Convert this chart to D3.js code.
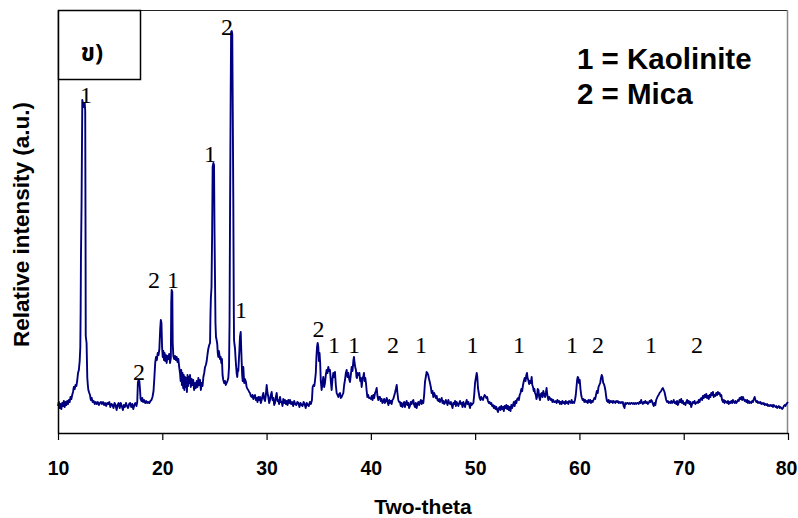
<!DOCTYPE html>
<html>
<head>
<meta charset="utf-8">
<script src="https://cdn.jsdelivr.net/npm/d3@7"></script>
<style>
  body { margin: 0; background: #fff; }
  svg { display: block; }
  .tick-label { font-family: "Liberation Sans", Arial, sans-serif; font-weight: bold; }
</style>
</head>
<body>
<script>
// x-ray diffraction scan: [two-theta, relative intensity]
const scan = [
  [10.00, 27], [10.08, 31], [10.16, 25], [10.24, 29], [10.32, 24], [10.40, 30], [10.48, 27], [10.56, 32],
  [10.64, 26], [10.72, 31], [10.80, 28], [10.88, 32], [10.96, 29], [11.04, 33], [11.12, 31], [11.20, 36],
  [11.28, 34], [11.36, 38], [11.44, 41], [11.52, 46], [11.60, 44], [11.68, 48], [11.76, 47], [11.84, 52],
  [11.92, 60], [12.00, 63], [12.08, 72], [12.14, 86], [12.17, 120], [12.20, 173], [12.26, 230], [12.33, 333],
  [12.40, 329], [12.48, 326], [12.56, 330], [12.61, 322], [12.64, 200], [12.66, 97], [12.74, 90], [12.81, 55],
  [12.86, 48], [12.91, 43], [13.00, 40], [13.07, 38], [13.15, 33], [13.23, 35], [13.32, 31], [13.42, 32],
  [13.52, 29], [13.62, 31], [13.72, 29], [13.82, 31], [13.92, 28], [14.02, 30], [14.12, 31], [14.22, 29],
  [14.32, 31], [14.42, 28], [14.52, 30], [14.62, 27], [14.72, 30], [14.82, 29], [14.92, 31], [15.02, 26],
  [15.12, 29], [15.22, 28], [15.32, 25], [15.42, 30], [15.52, 28], [15.62, 23], [15.72, 28], [15.82, 30],
  [15.92, 25], [16.02, 30], [16.12, 27], [16.22, 23], [16.32, 28], [16.42, 26], [16.52, 30], [16.62, 27],
  [16.72, 25], [16.82, 29], [16.92, 30], [17.02, 26], [17.12, 29], [17.22, 24], [17.32, 28], [17.42, 30],
  [17.52, 27], [17.60, 31], [17.66, 50], [17.72, 53], [17.80, 52], [17.86, 44], [17.92, 34], [18.00, 32],
  [18.08, 35], [18.16, 31], [18.26, 33], [18.36, 30], [18.46, 32], [18.56, 30], [18.66, 31], [18.76, 30],
  [18.86, 32], [18.96, 33], [19.06, 36], [19.16, 42], [19.24, 55], [19.32, 70], [19.40, 76], [19.48, 73],
  [19.56, 80], [19.64, 78], [19.72, 84], [19.80, 104], [19.86, 113], [19.92, 110], [19.98, 86], [20.04, 76],
  [20.10, 82], [20.16, 73], [20.22, 80], [20.28, 72], [20.34, 78], [20.42, 70], [20.50, 77], [20.58, 74],
  [20.66, 79], [20.74, 70], [20.82, 75], [20.86, 130], [20.90, 143], [20.96, 141], [21.00, 90], [21.06, 77],
  [21.14, 74], [21.22, 77], [21.30, 73], [21.38, 76], [21.46, 71], [21.54, 74], [21.62, 66], [21.70, 60],
  [21.76, 52], [21.82, 63], [21.88, 48], [21.94, 60], [22.00, 45], [22.06, 58], [22.12, 43], [22.18, 56],
  [22.24, 46], [22.30, 55], [22.36, 41], [22.42, 58], [22.48, 47], [22.54, 56], [22.60, 50], [22.66, 58],
  [22.74, 46], [22.82, 54], [22.90, 48], [22.97, 53], [23.05, 43], [23.14, 50], [23.22, 45], [23.30, 52],
  [23.38, 46], [23.46, 55], [23.54, 48], [23.62, 53], [23.70, 43], [23.78, 50], [23.86, 47], [23.94, 56],
  [24.02, 60], [24.10, 66], [24.18, 68], [24.26, 72], [24.34, 79], [24.41, 84], [24.50, 88], [24.58, 90],
  [24.62, 118], [24.66, 135], [24.72, 146], [24.78, 200], [24.83, 266], [24.90, 270], [24.96, 268], [25.01, 200],
  [25.05, 160], [25.10, 110], [25.15, 96], [25.21, 93], [25.27, 89], [25.32, 80], [25.37, 76], [25.42, 82],
  [25.47, 79], [25.53, 74], [25.60, 76], [25.66, 70], [25.72, 74], [25.78, 58], [25.85, 53], [25.93, 50],
  [26.01, 52], [26.09, 48], [26.17, 50], [26.25, 52], [26.33, 55], [26.40, 66], [26.45, 110], [26.50, 226],
  [26.56, 340], [26.60, 401], [26.66, 402], [26.71, 399], [26.76, 320], [26.81, 233], [26.86, 120], [26.88, 93],
  [26.93, 88], [26.97, 85], [27.02, 76], [27.07, 68], [27.13, 60], [27.19, 56], [27.24, 64], [27.29, 62],
  [27.34, 72], [27.39, 82], [27.45, 96], [27.52, 101], [27.57, 84], [27.61, 72], [27.66, 58], [27.71, 52],
  [27.77, 66], [27.82, 56], [27.86, 50], [27.92, 54], [28.00, 52], [28.09, 46], [28.17, 44], [28.25, 43],
  [28.33, 41], [28.41, 40], [28.49, 37], [28.57, 36], [28.65, 38], [28.73, 34], [28.81, 37], [28.89, 38],
  [28.97, 33], [29.05, 35], [29.13, 31], [29.21, 36], [29.29, 33], [29.37, 36], [29.45, 30], [29.53, 33],
  [29.61, 37], [29.69, 40], [29.77, 34], [29.85, 32], [29.93, 38], [30.01, 48], [30.09, 40], [30.17, 36],
  [30.25, 30], [30.33, 33], [30.41, 38], [30.49, 41], [30.57, 33], [30.65, 35], [30.73, 28], [30.81, 30],
  [30.89, 36], [30.97, 40], [31.05, 32], [31.12, 33], [31.20, 29], [31.29, 36], [31.37, 31], [31.45, 31],
  [31.53, 27], [31.60, 34], [31.68, 30], [31.76, 33], [31.85, 29], [31.93, 32], [32.01, 28], [32.09, 33],
  [32.17, 30], [32.25, 33], [32.35, 29], [32.45, 31], [32.55, 27], [32.65, 32], [32.75, 29], [32.85, 28],
  [32.95, 31], [33.05, 30], [33.15, 26], [33.25, 30], [33.35, 28], [33.45, 27], [33.55, 31], [33.65, 29],
  [33.75, 25], [33.85, 30], [33.95, 28], [34.05, 27], [34.15, 31], [34.25, 29], [34.35, 33], [34.42, 46],
  [34.50, 48], [34.58, 47], [34.64, 52], [34.72, 60], [34.78, 76], [34.84, 86], [34.90, 90], [34.96, 86],
  [35.02, 72], [35.08, 80], [35.14, 70], [35.20, 52], [35.28, 43], [35.36, 50], [35.44, 56], [35.52, 46],
  [35.60, 50], [35.68, 58], [35.76, 63], [35.84, 60], [35.92, 66], [36.00, 62], [36.08, 63], [36.16, 52],
  [36.24, 43], [36.32, 54], [36.40, 60], [36.48, 56], [36.56, 61], [36.64, 48], [36.72, 40], [36.80, 38],
  [36.88, 36], [36.96, 39], [37.04, 40], [37.12, 35], [37.20, 36], [37.28, 38], [37.36, 40], [37.44, 48],
  [37.52, 53], [37.60, 60], [37.68, 63], [37.76, 56], [37.84, 60], [37.92, 54], [38.00, 51], [38.08, 58],
  [38.16, 66], [38.24, 62], [38.32, 72], [38.38, 76], [38.44, 70], [38.50, 66], [38.57, 63], [38.62, 56],
  [38.67, 55], [38.74, 60], [38.82, 58], [38.90, 60], [38.98, 52], [39.05, 55], [39.12, 46], [39.20, 54],
  [39.28, 57], [39.34, 60], [39.40, 52], [39.47, 55], [39.53, 50], [39.60, 42], [39.66, 36], [39.74, 38],
  [39.82, 35], [39.92, 35], [40.00, 34], [40.08, 37], [40.16, 33], [40.24, 38], [40.32, 35], [40.40, 40],
  [40.48, 42], [40.56, 45], [40.62, 38], [40.71, 33], [40.79, 36], [40.87, 36], [40.95, 32], [41.03, 34],
  [41.11, 30], [41.19, 31], [41.27, 34], [41.35, 30], [41.43, 32], [41.52, 35], [41.60, 31], [41.68, 28],
  [41.76, 33], [41.83, 30], [41.91, 32], [41.99, 29], [42.07, 33], [42.15, 34], [42.23, 37], [42.31, 40],
  [42.40, 44], [42.48, 48], [42.55, 40], [42.63, 33], [42.71, 31], [42.79, 31], [42.87, 27], [42.95, 30],
  [43.03, 26], [43.11, 28], [43.19, 31], [43.27, 26], [43.35, 30], [43.43, 32], [43.51, 28], [43.59, 30],
  [43.67, 25], [43.75, 27], [43.83, 31], [43.91, 29], [43.99, 32], [44.07, 33], [44.15, 28], [44.23, 26],
  [44.31, 30], [44.39, 25], [44.47, 29], [44.55, 31], [44.63, 28], [44.71, 31], [44.79, 33], [44.87, 29],
  [44.95, 32], [45.03, 30], [45.11, 38], [45.19, 51], [45.27, 56], [45.35, 61], [45.43, 60], [45.50, 58],
  [45.58, 54], [45.67, 50], [45.75, 46], [45.83, 40], [45.91, 42], [45.99, 36], [46.07, 40], [46.15, 38],
  [46.23, 35], [46.31, 37], [46.39, 33], [46.47, 32], [46.55, 34], [46.63, 31], [46.71, 33], [46.79, 35],
  [46.87, 30], [46.95, 32], [47.03, 29], [47.11, 30], [47.19, 33], [47.27, 31], [47.35, 28], [47.43, 33],
  [47.51, 30], [47.59, 29], [47.67, 31], [47.75, 28], [47.83, 25], [47.91, 30], [47.99, 29], [48.07, 32],
  [48.15, 27], [48.23, 31], [48.31, 29], [48.39, 27], [48.47, 30], [48.55, 32], [48.63, 29], [48.71, 30],
  [48.79, 26], [48.87, 31], [48.95, 28], [49.03, 26], [49.11, 30], [49.19, 33], [49.27, 29], [49.35, 31],
  [49.43, 28], [49.51, 25], [49.59, 30], [49.67, 28], [49.75, 29], [49.83, 30], [49.91, 38], [49.99, 50],
  [50.07, 55], [50.15, 60], [50.21, 56], [50.27, 45], [50.35, 40], [50.43, 35], [50.51, 33], [50.59, 36],
  [50.67, 34], [50.75, 33], [50.83, 36], [50.91, 38], [50.99, 37], [51.07, 35], [51.15, 36], [51.23, 32],
  [51.31, 30], [51.39, 31], [51.47, 29], [51.55, 30], [51.63, 27], [51.71, 28], [51.79, 25], [51.87, 27],
  [51.95, 24], [52.03, 26], [52.11, 23], [52.19, 21], [52.27, 25], [52.35, 26], [52.43, 23], [52.51, 27],
  [52.59, 24], [52.67, 26], [52.75, 22], [52.83, 27], [52.91, 25], [52.99, 28], [53.07, 24], [53.15, 27],
  [53.23, 23], [53.31, 26], [53.39, 22], [53.47, 28], [53.55, 25], [53.63, 28], [53.71, 31], [53.79, 27],
  [53.87, 32], [53.95, 30], [54.03, 34], [54.11, 35], [54.19, 33], [54.27, 38], [54.35, 40], [54.43, 44],
  [54.51, 42], [54.59, 48], [54.67, 52], [54.75, 55], [54.83, 52], [54.91, 58], [54.97, 60], [55.03, 55],
  [55.10, 53], [55.18, 49], [55.26, 52], [55.34, 50], [55.42, 56], [55.48, 48], [55.55, 46], [55.62, 42],
  [55.68, 44], [55.74, 40], [55.82, 38], [55.88, 34], [55.93, 36], [56.00, 44], [56.07, 43], [56.14, 36],
  [56.22, 33], [56.30, 39], [56.38, 40], [56.46, 36], [56.54, 42], [56.62, 38], [56.70, 36], [56.78, 40],
  [56.85, 45], [56.92, 38], [57.02, 33], [57.10, 36], [57.17, 35], [57.25, 33], [57.33, 34], [57.41, 31],
  [57.49, 33], [57.57, 31], [57.65, 31], [57.73, 32], [57.81, 30], [57.89, 33], [57.97, 31], [58.05, 32],
  [58.13, 29], [58.21, 31], [58.29, 29], [58.37, 32], [58.45, 30], [58.53, 31], [58.61, 29], [58.69, 32],
  [58.77, 30], [58.85, 31], [58.93, 29], [59.01, 32], [59.09, 31], [59.17, 30], [59.25, 33], [59.33, 30],
  [59.41, 31], [59.49, 30], [59.57, 33], [59.65, 38], [59.72, 46], [59.78, 53], [59.84, 56], [59.90, 55],
  [59.96, 50], [60.03, 53], [60.10, 44], [60.17, 38], [60.24, 35], [60.31, 33], [60.39, 34], [60.47, 31],
  [60.55, 33], [60.63, 31], [60.71, 32], [60.79, 30], [60.87, 33], [60.95, 31], [61.03, 33], [61.11, 30],
  [61.19, 32], [61.27, 31], [61.35, 33], [61.43, 35], [61.51, 34], [61.59, 38], [61.67, 42], [61.75, 40],
  [61.83, 46], [61.91, 48], [61.99, 50], [62.07, 55], [62.14, 58], [62.21, 56], [62.28, 50], [62.35, 49],
  [62.43, 46], [62.50, 42], [62.57, 36], [62.64, 32], [62.72, 31], [62.80, 33], [62.88, 30], [62.96, 32],
  [63.04, 31], [63.12, 32], [63.20, 30], [63.28, 32], [63.36, 31], [63.44, 30], [63.52, 32], [63.60, 31],
  [63.68, 32], [63.76, 30], [63.84, 31], [63.92, 30], [64.00, 31], [64.08, 30], [64.16, 31], [64.24, 27],
  [64.32, 25], [64.40, 30], [64.48, 29], [64.56, 30], [64.64, 30], [64.72, 29], [64.80, 30], [64.88, 29],
  [64.96, 30], [65.04, 30], [65.12, 29], [65.20, 30], [65.28, 29], [65.36, 30], [65.44, 29], [65.52, 30],
  [65.60, 30], [65.68, 29], [65.76, 31], [65.84, 30], [65.92, 33], [66.00, 30], [66.08, 29], [66.16, 31],
  [66.24, 30], [66.32, 32], [66.40, 30], [66.48, 31], [66.56, 29], [66.64, 30], [66.72, 32], [66.80, 31],
  [66.88, 33], [66.96, 32], [67.04, 29], [67.12, 27], [67.20, 30], [67.28, 28], [67.36, 33], [67.44, 35],
  [67.52, 37], [67.60, 38], [67.68, 40], [67.76, 41], [67.84, 42], [67.92, 44], [68.00, 45], [68.08, 43],
  [68.16, 41], [68.24, 37], [68.32, 33], [68.40, 31], [68.48, 32], [68.56, 30], [68.64, 31], [68.72, 30],
  [68.80, 32], [68.88, 30], [68.96, 31], [69.04, 33], [69.12, 30], [69.20, 31], [69.28, 29], [69.36, 32],
  [69.44, 28], [69.52, 30], [69.60, 33], [69.68, 31], [69.76, 34], [69.84, 30], [69.92, 32], [70.00, 29],
  [70.08, 30], [70.16, 28], [70.24, 31], [70.32, 33], [70.40, 30], [70.48, 32], [70.56, 29], [70.64, 31],
  [70.72, 26], [70.80, 29], [70.88, 31], [70.96, 30], [71.04, 32], [71.12, 29], [71.20, 30], [71.28, 31],
  [71.36, 30], [71.44, 33], [71.52, 31], [71.60, 34], [71.68, 35], [71.76, 33], [71.84, 37], [71.92, 35],
  [72.00, 38], [72.08, 36], [72.16, 39], [72.24, 35], [72.32, 37], [72.40, 34], [72.48, 38], [72.56, 36],
  [72.64, 40], [72.72, 38], [72.80, 41], [72.88, 36], [72.96, 38], [73.04, 37], [73.12, 40], [73.20, 38],
  [73.28, 41], [73.36, 39], [73.44, 40], [73.52, 37], [73.60, 38], [73.68, 33], [73.76, 31], [73.84, 33],
  [73.92, 30], [74.00, 32], [74.08, 31], [74.16, 30], [74.24, 32], [74.32, 29], [74.40, 31], [74.48, 30],
  [74.56, 32], [74.64, 30], [74.72, 33], [74.80, 31], [74.88, 30], [74.96, 32], [75.04, 30], [75.12, 31],
  [75.20, 33], [75.28, 32], [75.36, 35], [75.44, 34], [75.52, 36], [75.60, 33], [75.68, 36], [75.76, 34],
  [75.84, 32], [75.92, 33], [76.00, 31], [76.08, 33], [76.16, 30], [76.24, 32], [76.32, 30], [76.40, 31],
  [76.48, 30], [76.56, 32], [76.64, 31], [76.72, 34], [76.80, 36], [76.88, 33], [76.96, 31], [77.04, 32],
  [77.12, 30], [77.20, 31], [77.28, 30], [77.36, 31], [77.44, 29], [77.52, 30], [77.60, 29], [77.68, 30],
  [77.76, 28], [77.84, 29], [77.92, 28], [78.00, 29], [78.08, 27], [78.16, 28], [78.24, 27], [78.32, 28],
  [78.40, 27], [78.48, 28], [78.56, 26], [78.64, 28], [78.72, 27], [78.80, 26], [78.88, 27], [78.96, 25],
  [79.04, 26], [79.12, 27], [79.20, 25], [79.28, 26], [79.36, 25], [79.44, 24], [79.52, 25], [79.60, 27],
  [79.68, 28], [79.76, 27], [79.84, 29], [79.92, 30], [80.00, 31]
];

// peak marks: two-theta, intensity level of the label baseline, phase number
const peakLabels = [
  [12.68, 330, "1"], [17.77, 53, "2"], [19.20, 145, "2"], [21.03, 145, "1"],
  [24.58, 271, "1"], [26.20, 398, "2"], [27.55, 115, "1"], [34.98, 96, "2"],
  [36.47, 80, "1"], [38.38, 80, "1"], [42.12, 80, "2"], [44.81, 80, "1"],
  [49.75, 80, "1"], [54.20, 80, "1"], [59.29, 80, "1"], [61.78, 80, "2"],
  [66.86, 80, "1"], [71.27, 80, "2"]
];

const legendItems = ["1 = Kaolinite", "2 = Mica"];
const xTicks = [10, 20, 30, 40, 50, 60, 70, 80];
const panelTag = "ข)";

// set the dimensions and margins of the graph
const margin = { top: 10, right: 10, bottom: 85, left: 58 },
    width = 798 - margin.left - margin.right,  // 730
    height = 518 - margin.top - margin.bottom; // 423

const svg = d3.select("body")
    .append("svg")
    .attr("width", width + margin.left + margin.right)
    .attr("height", height + margin.top + margin.bottom)
    .append("g")
    .attr("transform", "translate(" + margin.left + "," + margin.top + ")");

const x = d3.scaleLinear().domain([10, 80]).range([0, width]);
const y = d3.scaleLinear().domain([0, 423]).range([height, 0]);

// plot area frame (top and right only, the axes draw the rest)
svg.append("line")
    .attr("x1", 0).attr("x2", width).attr("y1", 0.5).attr("y2", 0.5)
    .attr("stroke", "#222").attr("stroke-width", 1);
svg.append("line")
    .attr("x1", width - 0.5).attr("x2", width - 0.5).attr("y1", 0).attr("y2", height)
    .attr("stroke", "#888").attr("stroke-width", 1.5);

// the scan line
const line = d3.line()
    .x(d => x(d[0]))
    .y(d => y(d[1]));

svg.append("path")
    .datum(scan)
    .attr("fill", "none")
    .attr("stroke", "#00007f")
    .attr("stroke-width", 1.9)
    .attr("stroke-linejoin", "round")
    .attr("d", line);

// x axis
const xAxis = d3.axisBottom(x)
    .tickValues(xTicks)
    .tickFormat(d3.format("d"))
    .tickSizeInner(7)
    .tickSizeOuter(0)
    .tickPadding(21);

const gx = svg.append("g")
    .attr("transform", "translate(0," + height + ")")
    .call(xAxis);
gx.select(".domain").attr("stroke", "#000").attr("stroke-width", 1.5);
gx.selectAll(".tick line").attr("stroke", "#000").attr("stroke-width", 1.2);
gx.selectAll(".tick text")
    .attr("class", "tick-label")
    .attr("fill", "#000")
    .style("font-size", "19.5px");
// keep the last label inside the window
gx.selectAll(".tick text").filter(d => d === 80).attr("dx", "-2");

// y axis: plain line, no ticks
const gy = svg.append("g")
    .call(d3.axisLeft(y).tickValues([]).tickSizeOuter(0));
gy.select(".domain").attr("stroke", "#000").attr("stroke-width", 1.5);

// axis titles
svg.append("text")
    .attr("x", width / 2)
    .attr("y", height + 81)
    .attr("text-anchor", "middle")
    .style("font-family", "'Liberation Sans', Arial, sans-serif")
    .style("font-weight", "bold")
    .style("font-size", "21px")
    .text("Two-theta");

svg.append("text")
    .attr("transform", "translate(-29," + (height / 2 + 3) + ") rotate(-90)")
    .attr("text-anchor", "middle")
    .style("font-family", "'Liberation Sans', Arial, sans-serif")
    .style("font-weight", "bold")
    .style("font-size", "22.5px")
    .text("Relative intensity (a.u.)");

// peak labels
svg.selectAll(".peak-label")
    .data(peakLabels)
    .enter()
    .append("text")
    .attr("class", "peak-label")
    .attr("x", d => x(d[0]))
    .attr("y", d => y(d[1]))
    .attr("text-anchor", "middle")
    .style("font-family", "'Liberation Serif', 'Times New Roman', serif")
    .style("font-size", "24px")
    .text(d => d[2]);

// legend text
svg.selectAll(".legend-label")
    .data(legendItems)
    .enter()
    .append("text")
    .attr("class", "legend-label")
    .attr("x", 519)
    .attr("y", (d, i) => 59 + i * 35)
    .style("font-family", "'Liberation Sans', Arial, sans-serif")
    .style("font-weight", "bold")
    .style("font-size", "29.5px")
    .text(d => d);

// panel tag box in the top left corner
svg.append("rect")
    .attr("x", 0.5)
    .attr("y", 0.5)
    .attr("width", 82)
    .attr("height", 69)
    .attr("fill", "#fff")
    .attr("stroke", "#000")
    .attr("stroke-width", 1.5);

svg.append("text")
    .attr("x", 34)
    .attr("y", 51)
    .attr("text-anchor", "middle")
    .style("font-family", "'Noto Sans Thai', Tahoma, 'DejaVu Sans', serif")
    .style("font-weight", "bold")
    .style("font-size", "24px")
    .text(panelTag);
</script>
</body>
</html>
